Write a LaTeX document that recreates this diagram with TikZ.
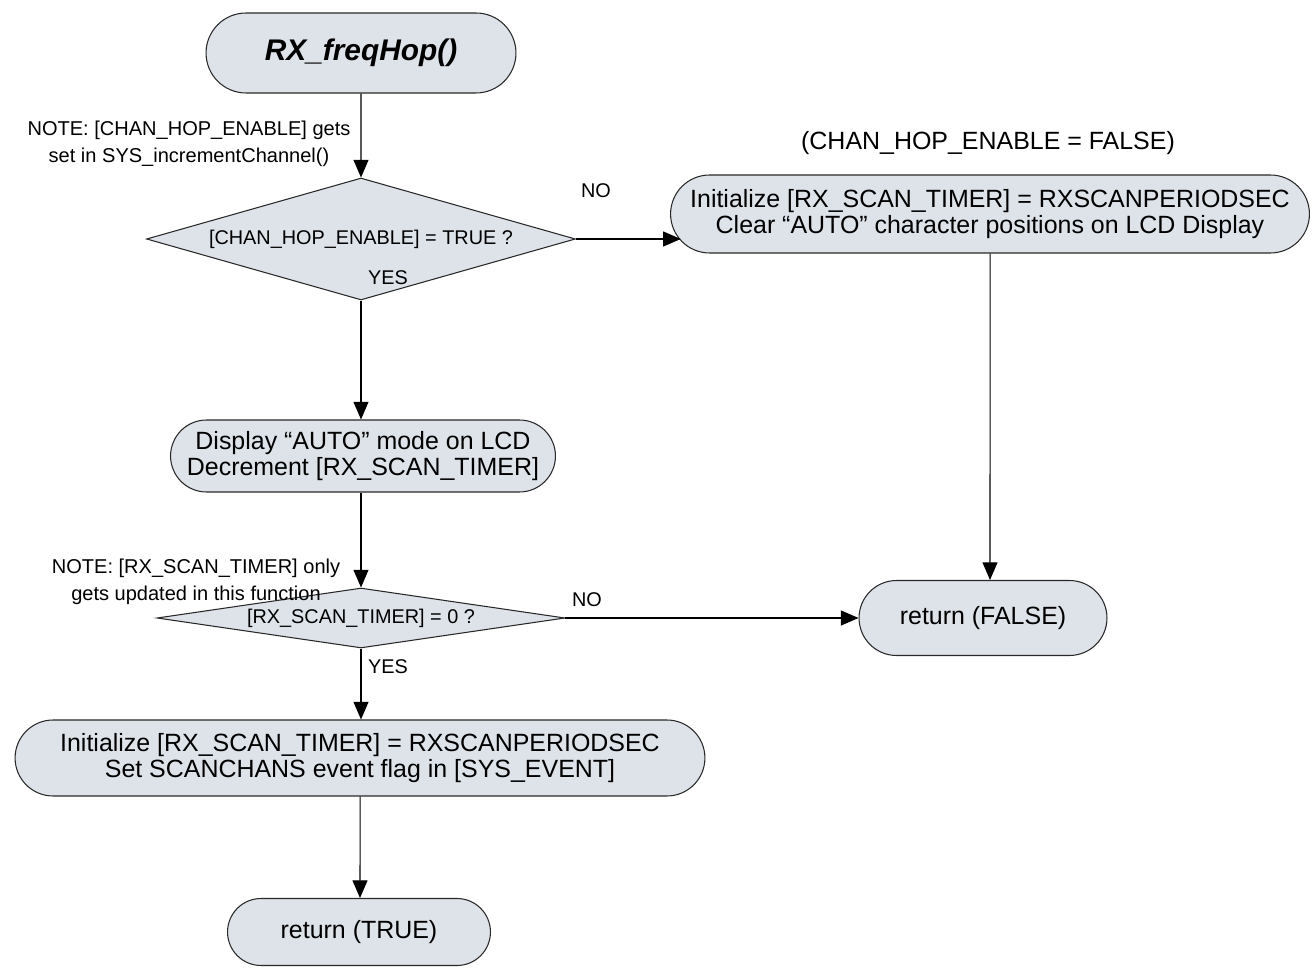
\documentclass[tikz,border=0pt]{standalone}
\usepackage{fontspec}
\setmainfont{Liberation Sans}
\usetikzlibrary{arrows.meta,positioning,shapes.geometric,shapes.misc}
\definecolor{boxfill}{RGB}{222,227,234}
\definecolor{edge}{RGB}{40,40,40}

\begin{document}
\begin{tikzpicture}[>={Triangle[length=10pt,width=8.5pt]},x=0.02cm,y=-0.02cm,
 line width=0.6pt,font=\fontsize{14.2}{14.8}\selectfont,
 term/.style={draw=edge,rounded rectangle,fill=boxfill,align=center,inner sep=2pt},
 dec/.style={draw=edge,diamond,fill=boxfill,inner sep=0pt,font=\fontsize{11.3}{13}\selectfont},
 note/.style={align=center,inner sep=1pt,font=\fontsize{11.4}{15.3}\selectfont},
 lab/.style={inner sep=1pt,font=\fontsize{11.3}{13}\selectfont}]
\useasboundingbox (0,0) rectangle (1315,979);
% main column
\node[term,minimum width=6.34cm,minimum height=1.6cm] (start) at (361,53) {\fontsize{17}{20}\selectfont\bfseries\itshape RX\_freqHop()};
\node[dec,aspect=3.5,minimum width=8.58cm,minimum height=2.44cm] (chk) at (361,239) {[CHAN\_HOP\_ENABLE] = TRUE ?};
\node[term,minimum width=7.84cm,minimum height=1.44cm] (disp) at (363,456) {Display “AUTO” mode on LCD\\Decrement [RX\_SCAN\_TIMER]};
\node[dec,aspect=6.8,minimum width=8.16cm,minimum height=1.2cm] (tchk) at (361,618) {[RX\_SCAN\_TIMER] = 0 ?};
\node[term,minimum width=13.94cm,minimum height=1.52cm] (init) at (360,758) {Initialize [RX\_SCAN\_TIMER] = RXSCANPERIODSEC\\Set SCANCHANS event flag in [SYS\_EVENT]};
\node[term,minimum width=5.4cm,minimum height=1.34cm] (rtrue) at (359,932) {return (TRUE)};
% right column
\node[term,minimum width=12.92cm,minimum height=1.56cm] (clr) at (990,214) {Initialize [RX\_SCAN\_TIMER] = RXSCANPERIODSEC\\Clear “AUTO” character positions on LCD Display};
\node[term,minimum width=5.1cm,minimum height=1.5cm] (rfalse) at (983,618) {return (FALSE)};
% notes and labels
\node[note] (note1) at (189,144) {NOTE: [CHAN\_HOP\_ENABLE] gets\\set in SYS\_incrementChannel()};
\node[note] (note2) at (196,582) {NOTE: [RX\_SCAN\_TIMER] only\\gets updated in this function};
\node (cond) at (988,143) {(CHAN\_HOP\_ENABLE = FALSE)};
\node[lab] (no1) at (596,191) {NO};
\node[lab] (yes1) at (388,278) {YES};
\node[lab] (no2) at (587,600) {NO};
\node[lab] (yes2) at (388,667) {YES};
% connectors
\draw[->] (start) -- (chk);
\draw[->] (chk) -- (chk |- disp.north);
\draw[->] (chk.east) -- (chk.east -| clr.175);
\draw[->] (tchk |- disp.south) -- (tchk);
\draw[->] (tchk) -- (tchk |- init.north);
\draw[->] (tchk.east) -- (rfalse.west);
\draw[->] (init) -- (init |- rtrue.north);
\draw[->] (clr) -- (clr |- rfalse.north);
\end{tikzpicture}
\end{document}
